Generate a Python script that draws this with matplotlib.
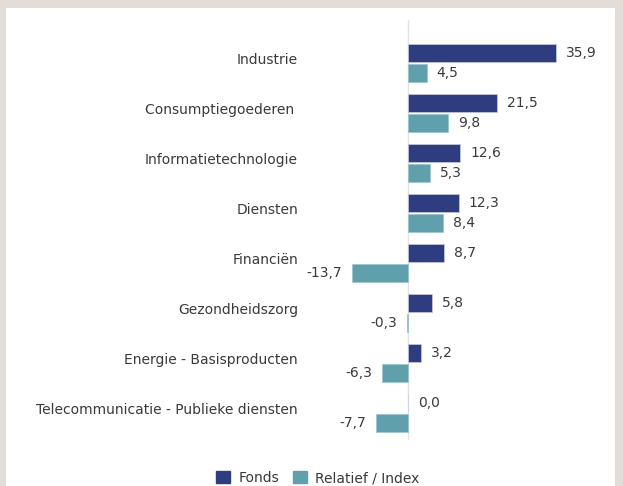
import matplotlib
matplotlib.use("Agg")
import matplotlib.pyplot as plt
from matplotlib.patches import Rectangle

categories = ["Industrie", "Consumptiegoederen ", "Informatietechnologie", "Diensten",
              "Financiën", "Gezondheidszorg", "Energie - Basisproducten",
              "Telecommunicatie - Publieke diensten"]
fonds = [35.9, 21.5, 12.6, 12.3, 8.7, 5.8, 3.2, 0.0]
relatief = [4.5, 9.8, 5.3, 8.4, -13.7, -0.3, -6.3, -7.7]
series_names = ["Fonds", "Relatief / Index"]

c_fonds = "#2e3c80"
c_rel = "#5fa0ac"
txt = "#3a3a3a"

W, H = 623, 486
fig = plt.figure(figsize=(W / 100, H / 100), dpi=100)
fig.patch.set_facecolor("#e2ddd8")
fig.patches.append(Rectangle((6 / W, 0), (615 - 6) / W, (H - 8) / H,
                             transform=fig.transFigure, facecolor="white",
                             edgecolor="none", zorder=-10))

# axes in pixel coords
ax_l, ax_r, ax_t, ax_b = 340, 600, 20, 440
ax = fig.add_axes([ax_l / W, 1 - ax_b / H, (ax_r - ax_l) / W, (ax_b - ax_t) / H])
ax.set_facecolor("none")
zero_px, scale = 408, 148 / 35.9
ax.set_xlim((ax_l - zero_px) / scale, (ax_r - zero_px) / scale)
y0 = 63
ax.set_ylim(7 + (ax_b - (y0 + 350)) / 50, -(y0 - ax_t) / 50)

ys = list(range(len(categories)))
h = 0.36
off = 0.205
ax.barh([y - off for y in ys], fonds, height=h, color=c_fonds,
        edgecolor="#c8cce0", linewidth=0.5, zorder=3)
ax.barh([y + off for y in ys], relatief, height=h, color=c_rel,
        edgecolor="#9cc4cb", linewidth=0.5, zorder=3)
ax.axvline(0, color="#e4e4e4", linewidth=1, zorder=1)

pad = 10 / scale
fs = 10
for y, v in zip(ys, fonds):
    ax.text(v + pad if v >= 0 else v - pad, y - off, f"{v:.1f}".replace(".", ","),
            ha="left" if v >= 0 else "right", va="center", fontsize=fs, color=txt)
for y, v in zip(ys, relatief):
    ax.text(v + pad if v >= 0 else v - pad, y + off, f"{v:.1f}".replace(".", ","),
            ha="left" if v >= 0 else "right", va="center", fontsize=fs, color=txt)

for y, c in zip(ys, categories):
    ax.text((298 - zero_px) / scale, y - 0.06, c, ha="right", va="center",
            fontsize=fs, color=txt, clip_on=False)

for s in ax.spines.values():
    s.set_visible(False)
ax.set_xticks([])
ax.set_yticks([])

# legend
handles = [Rectangle((0, 0), 1, 1, color=c_fonds), Rectangle((0, 0), 1, 1, color=c_rel)]
fig.legend(handles, series_names, loc="center", bbox_to_anchor=(318 / W, 1 - 478 / H),
           ncol=2, frameon=False, fontsize=fs, handlelength=1.0, handleheight=1.0,
           handletextpad=0.6, columnspacing=1.0, labelcolor=txt)

fig.savefig("out.png", dpi=100, facecolor=fig.get_facecolor())
